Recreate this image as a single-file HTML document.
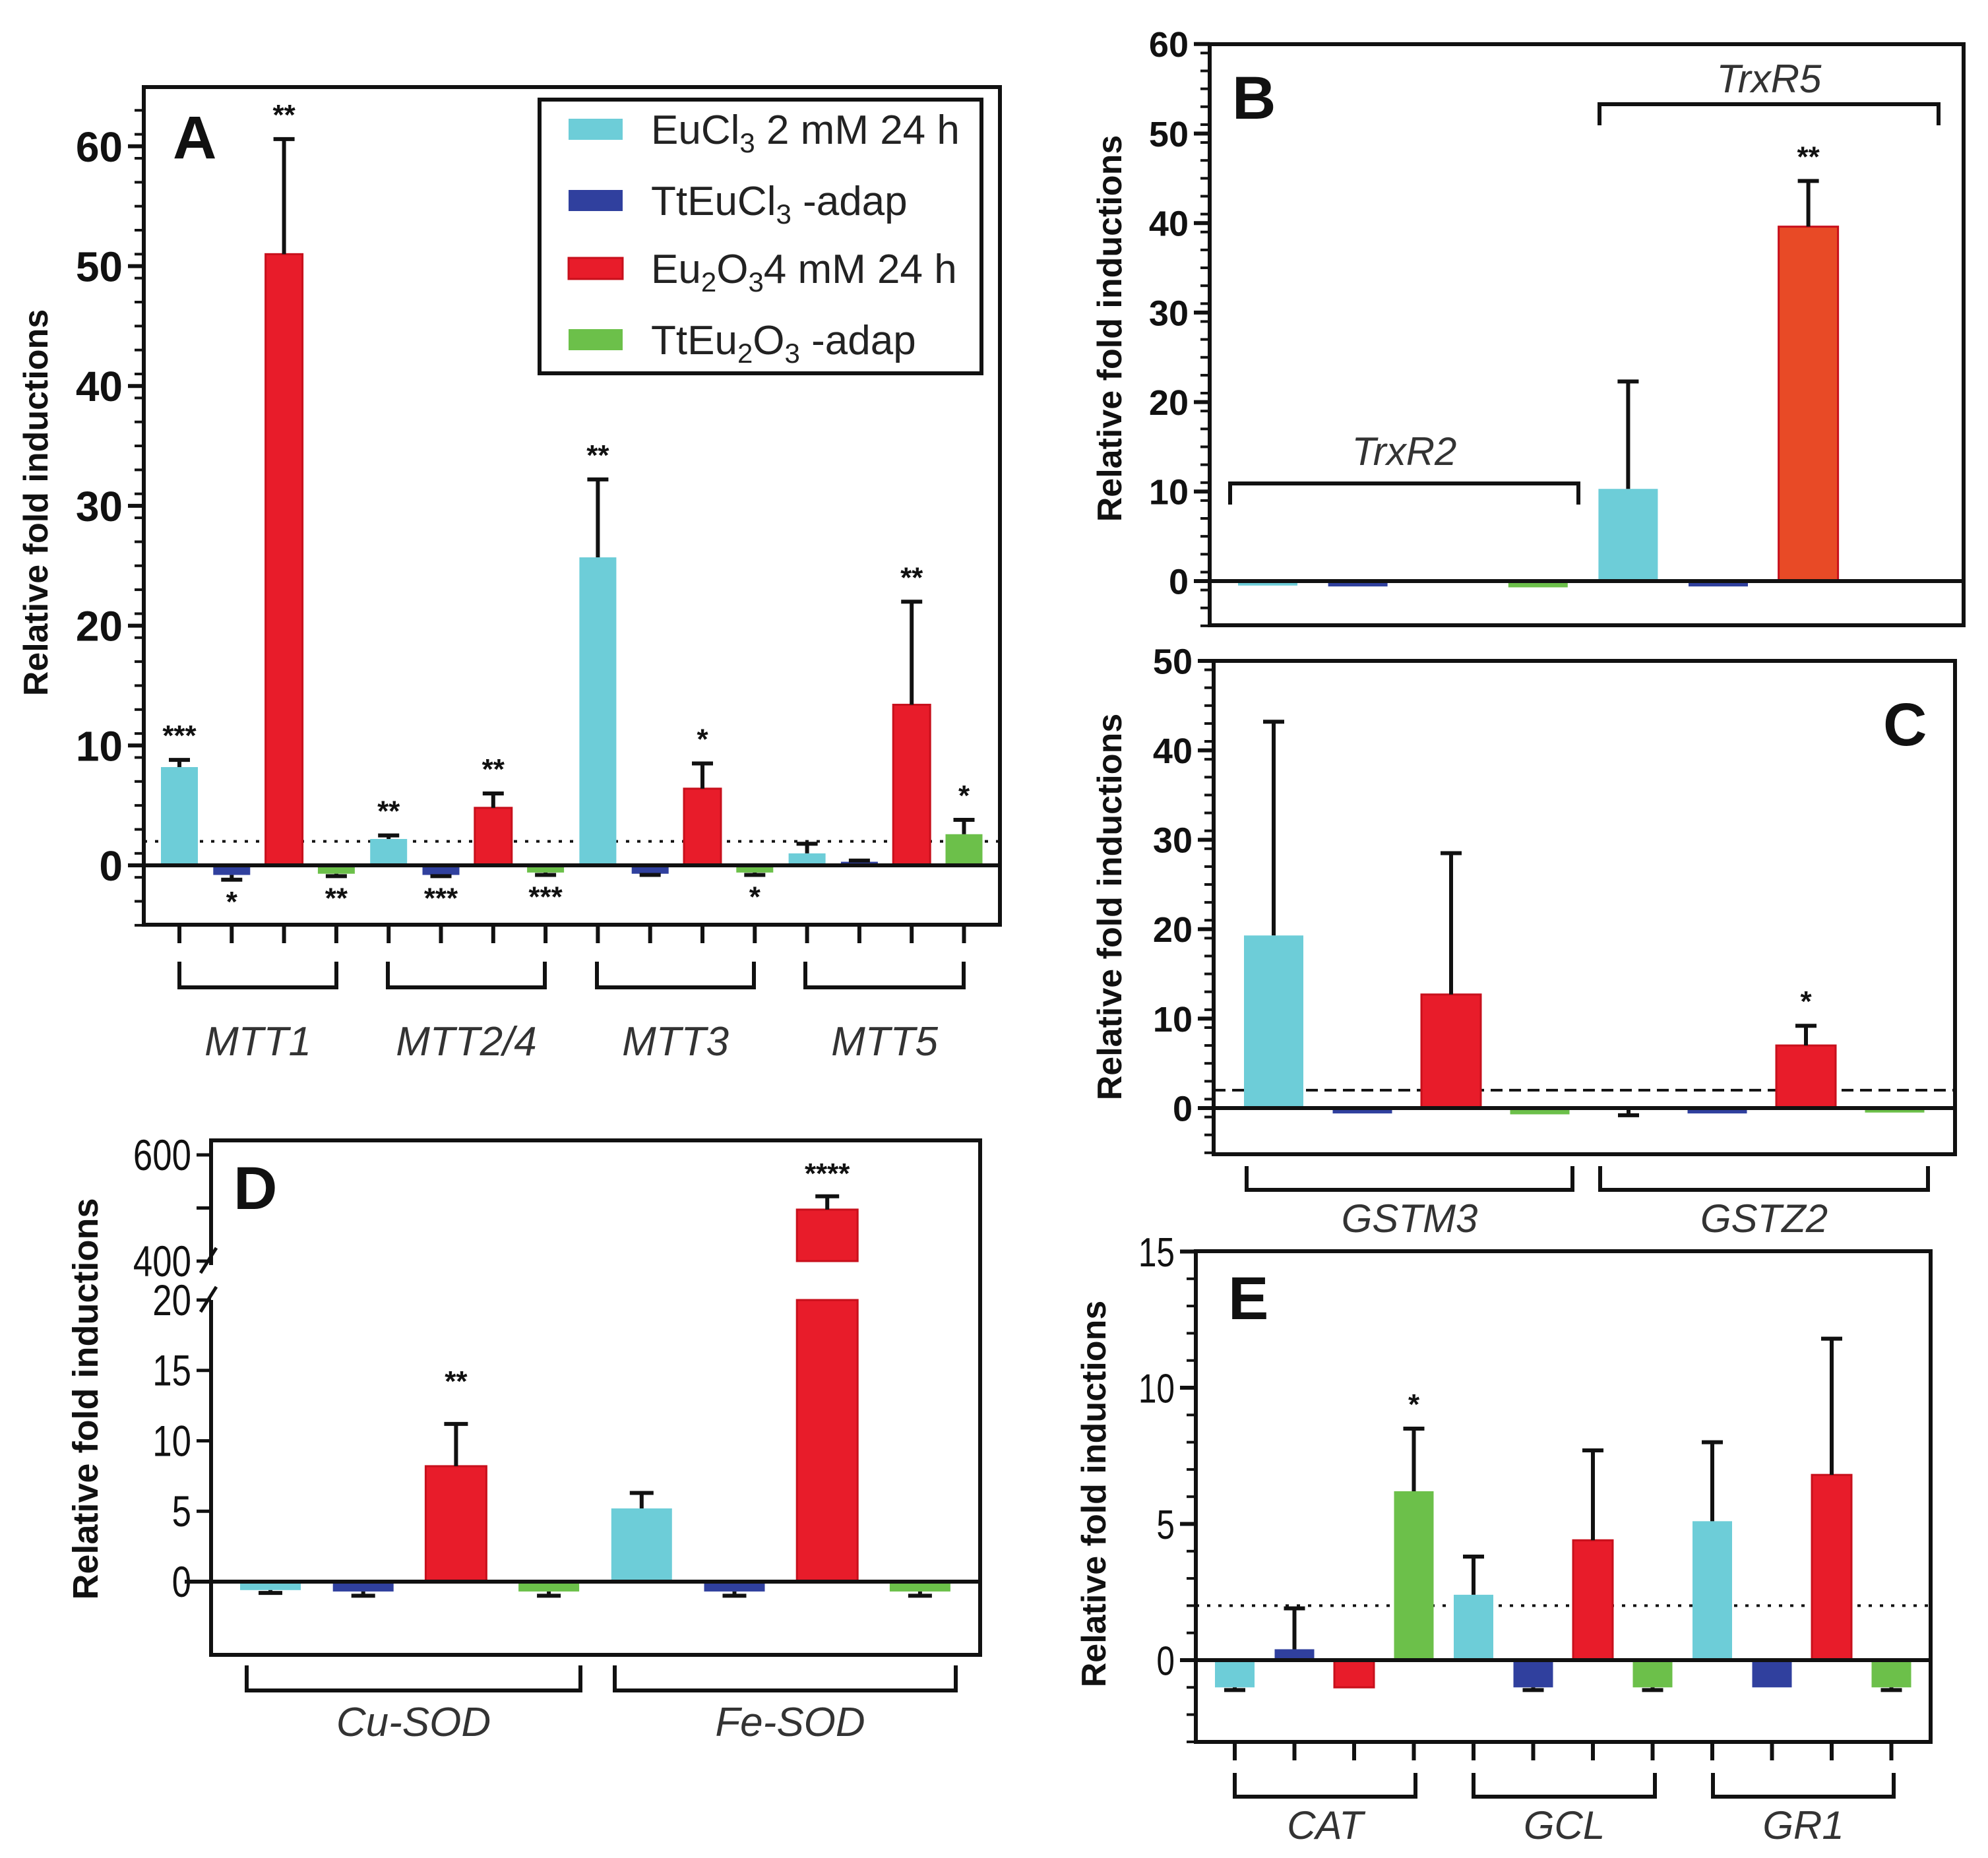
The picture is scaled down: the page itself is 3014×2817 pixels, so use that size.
<!DOCTYPE html>
<html><head><meta charset="utf-8">
<style>
html,body{margin:0;padding:0;background:#fff;}
svg{display:block;font-family:"Liberation Sans",Arial,sans-serif;}
</style></head>
<body>
<svg id="fig" width="3014" height="2817" viewBox="0 0 3014 2817" xmlns="http://www.w3.org/2000/svg">
<rect x="0" y="0" width="3014" height="2817" fill="#fff"/>
</svg>
<script>
// ---------- DATA ----------
const colors = ["#6dcdd8", "#30409e", "#e81c2a", "#6cc04a"];
const seriesNames = ["EuCl3 2 mM 24 h", "TtEuCl3 -adap", "Eu2O3 4 mM 24 h", "TtEu2O3 -adap"];

// Panel A
const aGenes = ["MTT1", "MTT2/4", "MTT3", "MTT5"];
const aValues = [8.2, -0.8, 51, -0.7, 2.2, -0.8, 4.8, -0.6, 25.7, -0.7, 6.4, -0.6, 1.0, 0.3, 13.4, 2.6];
const aErrors = [8.8, -1.2, 60.6, -0.9, 2.5, -0.9, 6.0, -0.8, 32.2, -0.8, 8.5, -0.8, 1.8, 0.4, 22.0, 3.8];
const aStars  = ["***", "*", "**", "**", "**", "***", "**", "***", "**", "", "*", "*", "", "", "**", "*"];
const aTicks = [0, 10, 20, 30, 40, 50, 60];

// Panel B
const bGenes = ["TrxR2", "TrxR5"];
const bValues = [-0.5, -0.6, 0.1, -0.7, 10.3, -0.6, 39.6, 0.2];
const bErrors = [null, null, null, null, 22.3, null, 44.7, null];
const bStars  = ["", "", "", "", "", "", "**", ""];
const bTicks = [0, 10, 20, 30, 40, 50, 60];

// Panel C
const cGenes = ["GSTM3", "GSTZ2"];
const cValues = [19.3, -0.6, 12.7, -0.7, -0.2, -0.6, 7.0, -0.5];
const cErrors = [43.2, null, 28.5, null, -0.8, null, 9.2, null];
const cStars  = ["", "", "", "", "", "", "*", ""];
const cTicks = [0, 10, 20, 30, 40, 50];

// Panel D
const dGenes = ["Cu-SOD", "Fe-SOD"];
const dValues = [-0.6, -0.7, 8.2, -0.7, 5.2, -0.7, 497, -0.7];
const dErrors = [-0.8, -1.0, 11.2, -1.0, 6.3, -1.0, 522, -1.0];
const dStars  = ["", "", "**", "", "", "", "****", ""];
const dTicksLow = [0, 5, 10, 15, 20];
const dTicksHigh = [400, 500, 600];
const dTickLabelsHigh = ["400", "", "600"];

// Panel E
const eGenes = ["CAT", "GCL", "GR1"];
const eValues = [-1.0, 0.4, -1.0, 6.2, 2.4, -1.0, 4.4, -1.0, 5.1, -1.0, 6.8, -1.0];
const eErrors = [-1.1, 1.9, null, 8.5, 3.8, -1.1, 7.7, -1.1, 8.0, null, 11.8, -1.1];
const eStars  = ["", "", "", "*", "", "", "", "", "", "", "", ""];
const eTicks = [0, 5, 10, 15];

// ---------- DRAWING ----------
const NS = "http://www.w3.org/2000/svg";
const svg = document.getElementById("fig");
function mk(tag, attrs, parent) {
  const el = document.createElementNS(NS, tag);
  for (const k in attrs) el.setAttribute(k, attrs[k]);
  (parent || svg).appendChild(el);
  return el;
}
function group(name) {
  const g = mk("g", {});
  
  
  return g;
}
function line(p, x1, y1, x2, y2, w, name, dash) {
  const a = {x1: x1, y1: y1, x2: x2, y2: y2, stroke: "#111", "stroke-width": w};
  if (dash) a["stroke-dasharray"] = dash;
  const el = mk("line", a, p);
  
  
  return el;
}
function text(p, x, y, s, size, opts, name) {
  opts = opts || {};
  const el = mk("text", {x: x, y: y, "font-size": size, "text-anchor": opts.anchor || "middle",
    "font-weight": opts.bold ? "bold" : "normal", "font-style": opts.italic ? "italic" : "normal",
    fill: opts.fill || "#111"}, p);
  if (opts.rotate) el.setAttribute("transform", "rotate(-90 " + x + " " + y + ")");
  if (opts.narrow) el.setAttribute("transform", "translate(" + x + " 0) scale(0.8 1) translate(" + (-x) + " 0)");
  el.textContent = s;
  
  
  return el;
}
function bracket(p, x1, x2, yH, yEnd, name) {
  const el = mk("path", {d: "M" + x1 + " " + yEnd + "V" + yH + "H" + x2 + "V" + yEnd, fill: "none", stroke: "#111", "stroke-width": 6}, p);
  
  
}

function drawPanel(c) {
  const g = group(c.name);
  const Y = v => c.zeroY - (v) * c.pxPerUnit;
  const X = i => c.firstX + i * c.step;
  const fr = mk("rect", {x: c.left, y: c.top, width: c.right - c.left, height: c.bottom - c.top, fill: "none", stroke: "#111", "stroke-width": 6}, g);
  
  
  for (let v = c.vmin; v <= c.vmax + 1e-6; v += c.minor) {
    line(g, c.left - 14, Y(v), c.left, Y(v), 4, "y-minor-tick");
  }
  c.ticks.forEach(t => {
    line(g, c.left - 24, Y(t), c.left, Y(t), 6, "y-major-tick");
    text(g, c.left - 32, Y(t) + c.tickSize * 0.36, String(t), c.tickSize, {anchor: "end", bold: c.tickBold, narrow: !c.tickBold}, "y-tick-label");
  });
  if (c.thresh) line(g, c.left, Y(2), c.right, Y(2), 4, "threshold-line", c.thresh);
  c.values.forEach((v, i) => {
    const x = X(i), col = colors[i % 4];
    const y0 = Y(0), y1 = Y(v);
    const r = mk("rect", {x: x - c.barW / 2, y: Math.min(y0, y1), width: c.barW, height: Math.max(2, Math.abs(y1 - y0)),
      fill: (c.fills && c.fills[i]) || col, stroke: (i % 4 == 2) ? "#c8101c" : "none", "stroke-width": 3}, g);
    
    
    const e = c.errors[i];
    if (e !== null && e !== undefined) {
      line(g, x, y1, x, Y(e), 6, "error-bar");
      line(g, x - 16, Y(e), x + 16, Y(e), 6, "error-cap");
    }
    const s = c.stars[i];
    if (s) {
      const top = v >= 0;
      const ref = (e !== null && e !== undefined) ? e : v;
      const sy = top ? Y(Math.max(ref, v)) - 22 : Y(Math.min(ref, v)) + 48;
      text(g, x, sy, s, 44, {bold: true}, "significance-stars");
    }
    if (c.xTicks) line(g, x, c.bottom, x, c.bottom + 28, 6, "x-tick");
  });
  line(g, c.left, Y(0), c.right, Y(0), 6, "zero-line");
  c.brackets.forEach((b, k) => {
    bracket(g, b[0], b[1], b[2], b[3], "bracket-" + c.genes[k].toLowerCase());
    text(g, (b[0] + b[1]) / 2, b[4], c.genes[k], c.geneSize || 62, {italic: true, fill: "#333"}, "gene-label-" + c.genes[k].toLowerCase());
  });
  text(g, c.titleX, c.titleY, "Relative fold inductions", 52, {bold: true, rotate: true}, "y-axis-title");
  text(g, c.letter[1], c.letter[2], c.letter[0], 92, {bold: true, anchor: "start"}, "panel-letter");
  return g;
}

// Panel A
drawPanel({name: "panel-a", left: 218, top: 132, right: 1516, bottom: 1402, zeroY: 1312, pxPerUnit: 18.17,
  vmin: -5, vmax: 64, minor: 2, ticks: aTicks, tickSize: 64, tickBold: true, thresh: "5 12",
  firstX: 272, step: 79.3, barW: 56, values: aValues, errors: aErrors, stars: aStars, genes: aGenes, xTicks: true,
  brackets: [[272, 510, 1497, 1458, 1600], [588, 826, 1497, 1458, 1600], [905, 1143, 1497, 1458, 1600], [1221, 1461, 1497, 1458, 1600]],
  geneSize: 62, titleX: 72, titleY: 762, letter: ["A", 262, 240]});

// Legend for A
(function () {
  const g = group("legend");
  const r = mk("rect", {x: 818, y: 151, width: 670, height: 415, fill: "#fff", stroke: "#111", "stroke-width": 6}, g);
  
  
  const rows = [196, 304, 407, 515];
  const labels = [
    ["EuCl", "3", " 2 mM 24 h"], ["TtEuCl", "3", " -adap"], ["Eu", "2", "O", "3", "4 mM 24 h"], ["TtEu", "2", "O", "3", " -adap"]
  ];
  rows.forEach((y, i) => {
    const sw = mk("rect", {x: 862, y: y - 16, width: 82, height: 32, fill: colors[i], stroke: i == 2 ? "#c8101c" : "none", "stroke-width": 3}, g);
    
    
    const t = mk("text", {x: 987, y: y + 22, "font-size": 62, fill: "#222"}, g);
    
    
    labels[i].forEach((part, k) => {
      const ts = mk("tspan", {}, t);
      if (/^[23]$/.test(part)) { ts.setAttribute("font-size", 42); ts.setAttribute("dy", 13); }
      else if (k > 0 && /^[23]$/.test(labels[i][k - 1])) { ts.setAttribute("dy", -13); }
      ts.textContent = part;
    });
  });
})();

// Panel B
drawPanel({name: "panel-b", left: 1834, top: 67, right: 2977, bottom: 948, zeroY: 881, pxPerUnit: 13.57,
  vmin: -5, vmax: 60, minor: 2, ticks: bTicks, tickSize: 54, tickBold: true, thresh: null,
  firstX: 1922, step: 136.6, barW: 90, values: bValues, errors: bErrors, stars: bStars, genes: bGenes, xTicks: false,
  fills: [null, null, null, null, null, null, "#e84a26", null],
  brackets: [[1865, 2393, 733, 765, 705], [2425, 2939, 158, 190, 140]], geneSize: 60,
  titleX: 1700, titleY: 498, letter: ["B", 1868, 180]});

// Panel C
drawPanel({name: "panel-c", left: 1840, top: 1002, right: 2964, bottom: 1750, zeroY: 1680, pxPerUnit: 13.56,
  vmin: -5, vmax: 50, minor: 2, ticks: cTicks, tickSize: 54, tickBold: true, thresh: "18 10",
  firstX: 1931, step: 134.5, barW: 90, values: cValues, errors: cErrors, stars: cStars, genes: cGenes, xTicks: false,
  brackets: [[1890, 2384, 1804, 1768, 1868], [2426, 2923, 1804, 1768, 1868]], geneSize: 60,
  titleX: 1700, titleY: 1375, letter: ["C", 2855, 1130]});

// Panel E
drawPanel({name: "panel-e", left: 1813, top: 1897, right: 2927, bottom: 2641, zeroY: 2517, pxPerUnit: 41.3,
  vmin: -3, vmax: 15, minor: 1, ticks: eTicks, tickSize: 62, tickBold: false, thresh: "5 12",
  firstX: 1872, step: 90.5, barW: 60, values: eValues, errors: eErrors, stars: eStars, genes: eGenes, xTicks: true,
  brackets: [[1872, 2146, 2724, 2688, 2788], [2234, 2509, 2724, 2688, 2788], [2597, 2871, 2724, 2688, 2788]], geneSize: 60,
  titleX: 1676, titleY: 2265, letter: ["E", 1862, 2000]});

// Panel D (broken axis)
(function () {
  const g = group("panel-d");
  const left = 320, right = 1486, top = 1729, bottom = 2509, zeroY = 2398, pu = 21.35;
  const hiY0 = 1912, hiPer = 0.805;
  const YL = v => zeroY - v * pu;
  const YH = v => hiY0 - (v - 400) * hiPer;
  const X = i => 410 + i * 140.7;
  const p = mk("path", {d: "M" + left + " " + YL(20) + "V" + bottom + "H" + right + "V" + top + "H" + left + "V" + (hiY0 + 6), fill: "none", stroke: "#111", "stroke-width": 6}, g);
  
  
  line(g, left - 16, hiY0 + 18, left + 8, hiY0 - 20, 5, "axis-break-mark");
  line(g, left - 16, YL(20) + 18, left + 8, YL(20) - 20, 5, "axis-break-mark");
  dTicksLow.forEach(t => {
    line(g, left - 22, YL(t), left, YL(t), 5, "y-major-tick");
    text(g, left - 30, YL(t) + 23, String(t), 66, {anchor: "end", narrow: true}, "y-tick-label");
  });
  dTicksHigh.forEach((t, k) => {
    line(g, left - 22, YH(t), left, YH(t), 5, "y-major-tick");
    if (dTickLabelsHigh[k]) text(g, left - 30, YH(t) + 23, dTickLabelsHigh[k], 66, {anchor: "end", narrow: true}, "y-tick-label");
  });
  dValues.forEach((v, i) => {
    const x = X(i), w = 92, col = colors[i % 4];
    const e = dErrors[i];
    if (v > 20) {
      const r1 = mk("rect", {x: x - w / 2, y: YL(20), width: w, height: YL(0) - YL(20), fill: col, stroke: "#c8101c", "stroke-width": 3}, g);
      
      
      const r2 = mk("rect", {x: x - w / 2, y: YH(v), width: w, height: YH(400) - YH(v), fill: col, stroke: "#c8101c", "stroke-width": 3}, g);
      
      
      line(g, x, YH(v), x, YH(e), 6, "error-bar");
      line(g, x - 18, YH(e), x + 18, YH(e), 6, "error-cap");
      text(g, x, YH(e) - 20, dStars[i], 44, {bold: true}, "significance-stars");
      return;
    }
    const y0 = YL(0), y1 = YL(v);
    const r = mk("rect", {x: x - w / 2, y: Math.min(y0, y1), width: w, height: Math.abs(y1 - y0), fill: col, stroke: (i % 4 == 2) ? "#c8101c" : "none", "stroke-width": 3}, g);
    
    
    if (e !== null) {
      line(g, x, y1, x, YL(e), 6, "error-bar");
      line(g, x - 18, YL(e), x + 18, YL(e), 6, "error-cap");
    }
    if (dStars[i]) text(g, x, YL(e) - 50, dStars[i], 44, {bold: true}, "significance-stars");
  });
  line(g, left - 40, zeroY, right, zeroY, 6, "zero-line");
  bracket(g, 374, 880, 2563, 2525, "bracket-cu-sod");
  bracket(g, 932, 1449, 2563, 2525, "bracket-fe-sod");
  text(g, 627, 2632, dGenes[0], 62, {italic: true, fill: "#333"}, "gene-label-cu-sod");
  text(g, 1198, 2632, dGenes[1], 62, {italic: true, fill: "#333"}, "gene-label-fe-sod");
  text(g, 148, 2121, "Relative fold inductions", 54, {bold: true, rotate: true}, "y-axis-title");
  text(g, 354, 1833, "D", 92, {bold: true, anchor: "start"}, "panel-letter");
})();
</script>
</body></html>
